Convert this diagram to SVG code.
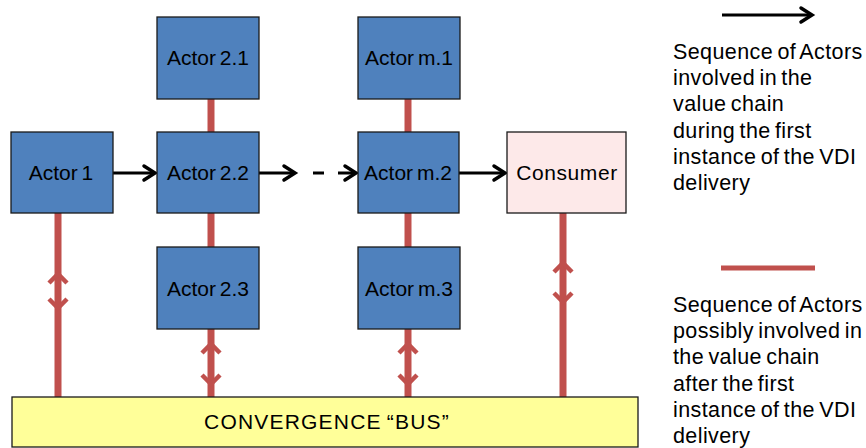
<svg xmlns="http://www.w3.org/2000/svg" width="866" height="448" viewBox="0 0 866 448">
  <style>
    .actor { fill: #4F81BD; stroke: #1a1a1a; stroke-width: 1.3; }
    .consumer { fill: #FDE9E9; stroke: #1a1a1a; stroke-width: 1.3; }
    .bus { fill: #FFFF99; stroke: #1a1a1a; stroke-width: 1.3; }
    .label { font-family: "Liberation Sans", Arial, sans-serif; font-size: 21px; fill: #000; text-anchor: middle; word-spacing: -2px; }
    .legend { font-family: "Liberation Sans", Arial, sans-serif; font-size: 21.5px; fill: #000; word-spacing: -2px; letter-spacing: 0.4px; }
    .flow { stroke: #000; stroke-width: 3; fill: none; }
    .head { stroke: #000; stroke-width: 3.5; fill: none; stroke-linecap: round; stroke-linejoin: miter; }
    .link { stroke: #C0504D; stroke-width: 7; fill: none; }
    .chev { stroke: #C0504D; stroke-width: 4.5; fill: none; stroke-linejoin: miter; }
  </style>

  <!-- connectors: black sequence arrows and red bus links -->
  <g id="connectors">
    <!-- red links between stacked actors -->
    <line class="link" x1="211" y1="99" x2="211" y2="132"/>
    <line class="link" x1="211" y1="213" x2="211" y2="247"/>
    <line class="link" x1="408" y1="99" x2="408" y2="132"/>
    <line class="link" x1="408" y1="213" x2="408" y2="247"/>

    <!-- red links to the bus, with double chevrons -->
    <line class="link" x1="58" y1="213" x2="58" y2="397"/>
    <polyline class="chev" points="49,283 58,274 67,283"/>
    <polyline class="chev" points="49,299 58,308 67,299"/>

    <line class="link" x1="211" y1="329" x2="211" y2="397"/>
    <polyline class="chev" points="202,353 211,344 220,353"/>
    <polyline class="chev" points="202,375 211,384 220,375"/>

    <line class="link" x1="408" y1="329" x2="408" y2="397"/>
    <polyline class="chev" points="399,353 408,344 417,353"/>
    <polyline class="chev" points="399,375 408,384 417,375"/>

    <line class="link" x1="563" y1="213" x2="563" y2="397"/>
    <polyline class="chev" points="554,272 563,263 572,272"/>
    <polyline class="chev" points="554,293 563,302 572,293"/>

    <!-- black sequence arrows -->
    <line class="flow" x1="113" y1="173" x2="155" y2="173"/>
    <polyline class="head" points="144,166 155,173 144,180"/>

    <line class="flow" x1="259" y1="173" x2="295" y2="173"/>
    <polyline class="head" points="284,166 295,173 284,180"/>

    <line class="flow" x1="313" y1="173" x2="324" y2="173"/>
    <line class="flow" x1="338" y1="173" x2="356" y2="173"/>
    <polyline class="head" points="345,166 356,173 345,180"/>

    <line class="flow" x1="459" y1="173" x2="505" y2="173"/>
    <polyline class="head" points="494,166 505,173 494,180"/>
  </g>

  <g id="actor-1">
    <rect class="actor" x="11" y="132" width="102" height="81"/>
    <text class="label" x="61" y="180">Actor 1</text>
  </g>
  <g id="actor-2-1">
    <rect class="actor" x="157" y="17" width="102" height="82"/>
    <text class="label" x="208" y="65">Actor 2.1</text>
  </g>
  <g id="actor-2-2">
    <rect class="actor" x="157" y="132" width="102" height="81"/>
    <text class="label" x="208" y="180">Actor 2.2</text>
  </g>
  <g id="actor-2-3">
    <rect class="actor" x="157" y="247" width="102" height="82"/>
    <text class="label" x="208" y="296">Actor 2.3</text>
  </g>
  <g id="actor-m-1">
    <rect class="actor" x="358" y="17" width="102" height="82"/>
    <text class="label" x="409" y="65">Actor m.1</text>
  </g>
  <g id="actor-m-2">
    <rect class="actor" x="358" y="132" width="101" height="81"/>
    <text class="label" x="408" y="180">Actor m.2</text>
  </g>
  <g id="actor-m-3">
    <rect class="actor" x="358" y="247" width="102" height="82"/>
    <text class="label" x="409" y="296">Actor m.3</text>
  </g>
  <g id="consumer">
    <rect class="consumer" x="507" y="132" width="119" height="81"/>
    <text class="label" x="567" y="180" style="letter-spacing:0.6px">Consumer</text>
  </g>
  <g id="bus">
    <rect class="bus" x="12" y="397" width="626" height="50"/>
    <text class="label" x="327" y="429" style="letter-spacing:1.2px">CONVERGENCE “BUS”</text>
  </g>

  <!-- legend -->
  <g id="legend-sequence">
    <line class="flow" x1="722" y1="15" x2="812" y2="15"/>
    <polyline class="head" points="801,8 812,15 801,22"/>
    <text class="legend">
      <tspan x="673" y="59">Sequence of Actors</tspan>
      <tspan x="673" y="85">involved in the</tspan>
      <tspan x="673" y="111">value chain</tspan>
      <tspan x="673" y="138">during the first</tspan>
      <tspan x="673" y="164">instance of the VDI</tspan>
      <tspan x="673" y="190">delivery</tspan>
    </text>
  </g>
  <g id="legend-possible">
    <line x1="721" y1="268" x2="815" y2="268" stroke="#C0504D" stroke-width="5"/>
    <text class="legend">
      <tspan x="673" y="312">Sequence of Actors</tspan>
      <tspan x="673" y="338">possibly involved in</tspan>
      <tspan x="673" y="364">the value chain</tspan>
      <tspan x="673" y="391">after the first</tspan>
      <tspan x="673" y="417">instance of the VDI</tspan>
      <tspan x="673" y="443">delivery</tspan>
    </text>
  </g>
</svg>
